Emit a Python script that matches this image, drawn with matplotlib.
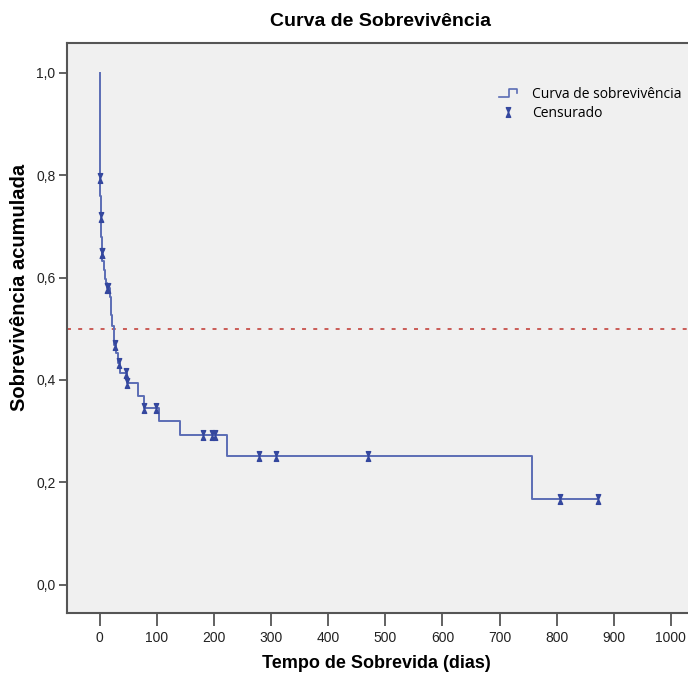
import numpy as np
import matplotlib
matplotlib.use('Agg')
import matplotlib.pyplot as plt
from matplotlib.path import Path
from matplotlib.lines import Line2D
from matplotlib.legend_handler import HandlerBase
from matplotlib.ticker import FuncFormatter

# step points of the Kaplan-Meier curve (time in days, cumulative survival)
tempo = [0, 0.3, 0.6, 1.0, 1.5, 2.0, 3.0, 4.5, 6.5, 8.5, 10, 12, 17, 19, 22, 24,
         28, 31, 35, 47, 66, 77, 104, 140, 222, 757]
sobrev = [1.0, 0.849, 0.794, 0.76, 0.719, 0.68, 0.648, 0.632, 0.615, 0.598, 0.590,
          0.580, 0.562, 0.527, 0.505, 0.468, 0.452, 0.433, 0.414, 0.394, 0.368,
          0.346, 0.319, 0.293, 0.252, 0.168]
tempo_fim = 873

# censored observations
cens_t = [0.6, 1.5, 3.0, 3.6, 12, 15, 26, 33, 45, 48, 78, 99, 181, 197, 202, 278, 308, 469, 806, 873]
cens_s = [0.794, 0.719, 0.648, 0.648, 0.580, 0.580, 0.468, 0.433, 0.414, 0.394, 0.346, 0.346,
          0.293, 0.293, 0.293, 0.252, 0.252, 0.252, 0.168, 0.168]

linha_cor = '#5b6db5'
cens_cor = '#34479e'
narrow = ['Liberation Sans Narrow', 'Liberation Sans', 'DejaVu Sans']

# hourglass marker for censored cases
hourglass = Path([(-0.45, 1), (0.45, 1), (-0.45, -1), (0.45, -1), (-0.45, 1)],
                 [Path.MOVETO, Path.LINETO, Path.LINETO, Path.LINETO, Path.CLOSEPOLY])


class StepHandler(HandlerBase):
    # little step icon like the one SPSS uses in its legend
    def create_artists(self, legend, orig_handle, xdescent, ydescent, width,
                       height, fontsize, trans):
        x0, x1 = -xdescent, -xdescent + width
        y0, y1 = -ydescent + 0.1 * height, -ydescent + 0.9 * height
        xs = [x0, x0 + 0.55 * width, x0 + 0.55 * width, x1, x1]
        ys = [y0, y0, y1, y1, y0 + 0.35 * height]
        ln = Line2D(xs, ys, color=orig_handle.get_color(), lw=1.2, transform=trans)
        return [ln]


fig = plt.figure(figsize=(6.88, 6.75), dpi=100)
ax = fig.add_axes([66.7 / 688, 1 - 613 / 675, 1 - 66.7 / 688 + 0.01, (613 - 43) / 675])
ax.set_facecolor('#f0f0f0')

t_plot = tempo + [tempo_fim]
s_plot = sobrev + [sobrev[-1]]
curva, = ax.step(t_plot, s_plot, where='post', color=linha_cor, lw=1.4, zorder=3)
ax.plot(cens_t, cens_s, ls='none', marker=hourglass, ms=7, color=cens_cor,
        mec=cens_cor, zorder=4)

ax.axhline(0.5, color='#c8504a', ls=(0, (2.2, 4)), lw=1.3, zorder=2)

ax.set_xlim(-58, 1042)
ax.set_ylim(-0.055, 1.058)
ax.set_xticks(np.arange(0, 1001, 100))
ax.set_yticks([0, 0.2, 0.4, 0.6, 0.8, 1.0])
ax.yaxis.set_major_formatter(FuncFormatter(lambda v, p: ('%.1f' % v).replace('.', ',')))

for s in ['left', 'top', 'bottom']:
    ax.spines[s].set_color('#555555')
    ax.spines[s].set_linewidth(1.5)
ax.spines['right'].set_visible(False)
ax.tick_params(axis='x', length=9, width=1.3, color='#555555', labelsize=10, pad=4)
ax.tick_params(axis='y', length=6, width=1.3, color='#555555', labelsize=10, pad=2)
for lab in ax.get_xticklabels() + ax.get_yticklabels():
    lab.set_family(narrow)
    lab.set_color('#222222')

fig.text(381 / 688, 1 - 22 / 675, 'Curva de Sobrevivência', ha='center', va='center',
         fontsize=14, family=narrow, fontweight='bold')
fig.text(376 / 688, 1 - 664 / 675, 'Tempo de Sobrevida (dias)', ha='center', va='center',
         fontsize=13, family=narrow, fontweight='bold')
fig.text(20 / 688, 1 - 287 / 675, 'Sobrevivência acumulada', ha='center', va='center',
         rotation=90, fontsize=14.5, family=['Liberation Sans', 'DejaVu Sans'],
         fontweight='bold')

handles = [Line2D([], [], color=linha_cor, lw=1.4),
           Line2D([], [], ls='none', marker=hourglass, ms=7, color=cens_cor)]
ax.legend(handles, ['Curva de sobrevivência', 'Censurado'], loc='upper left',
          bbox_to_anchor=(0.668, 0.945), frameon=False, handlelength=1.3,
          handletextpad=1.1, labelspacing=0.3,
          handler_map={handles[0]: StepHandler()},
          prop={'family': ['Open Sans', 'DejaVu Sans'], 'size': 10})

fig.savefig('out.png', dpi=100)
